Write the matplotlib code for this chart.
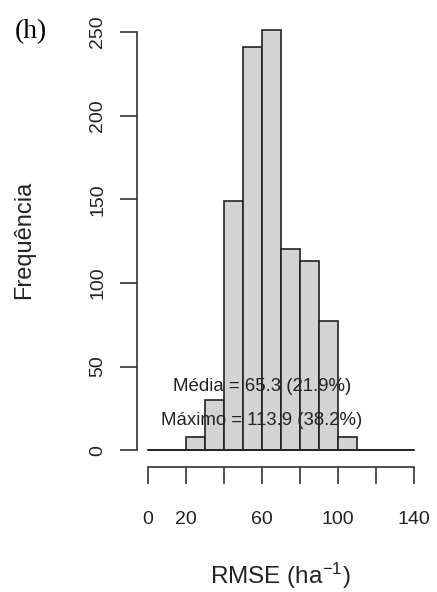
import numpy as np
import matplotlib
matplotlib.use("Agg")
import matplotlib.pyplot as plt

# RMSE histogram: bin edges (ha^-1) and counts per bin
bin_edges = [0, 10, 20, 30, 40, 50, 60, 70, 80, 90, 100, 110, 120, 130, 140]
counts = [0, 0, 8, 30, 149, 241, 251, 120, 113, 77, 8, 0, 0, 0]
x_ticks = [0, 20, 40, 60, 80, 100, 120, 140]
x_tick_labels = ["0", "20", "", "60", "", "100", "", "140"]
y_ticks = [0, 50, 100, 150, 200, 250]
media_text = "Média = 65.3 (21.9%)"
maximo_text = "Máximo = 113.9 (38.2%)"

plt.rcParams['font.family'] = ['Liberation Sans', 'DejaVu Sans']
plt.rcParams['mathtext.fontset'] = 'custom'
plt.rcParams['mathtext.rm'] = 'Liberation Sans'
plt.rcParams['mathtext.it'] = 'Liberation Sans'

fig = plt.figure(figsize=(4.37, 5.92), dpi=100)
W, H = 437, 592
left, right, top, bottom = 137, 424.3, 13.6, 467
ax = fig.add_axes([left / W, (H - bottom) / H, (right - left) / W, (bottom - top) / H])

lefts = np.array(bin_edges[:-1])
widths = np.diff(bin_edges)
ax.bar(lefts, counts, width=widths, align='edge', color='#d3d3d3',
       edgecolor='#222222', linewidth=1.2)
# zero-count bins show up as a flat line along the base
ax.plot([bin_edges[0], bin_edges[-1]], [0, 0], color='#222222', linewidth=1.2)

ax.set_xlim(-5.6, 145.6)
ax.set_ylim(-10.04, 261.04)

for s in ['top', 'right']:
    ax.spines[s].set_visible(False)
ax.spines['left'].set_bounds(0, 250)
ax.spines['bottom'].set_bounds(0, 140)
for s in ['left', 'bottom']:
    ax.spines[s].set_color('#333333')
    ax.spines[s].set_linewidth(1.2)

ax.set_xticks(x_ticks)
ax.set_xticklabels(x_tick_labels)
ax.set_yticks(y_ticks)
ax.tick_params(axis='both', length=12, width=1.2, color='#333333',
               labelsize=14, labelcolor='#222222')
ax.tick_params(axis='x', pad=20)
ax.tick_params(axis='y', pad=10, labelrotation=90)
for t in ax.get_yticklabels():
    t.set_va('center')

ax.set_xlabel("RMSE (ha$\\mathrm{^{-1}}$)", fontsize=17.5, color='#222222')
ax.set_ylabel("Frequência", fontsize=17, color='#222222')
ax.xaxis.set_label_coords(0.5, -0.207)
ax.yaxis.set_label_coords(-0.353, 0.5)

ax.text(60, 38, media_text, ha='center', va='center', fontsize=13.4, color='#222222')
ax.text(60, 18, maximo_text, ha='center', va='center', fontsize=13.4, color='#222222')

fig.text(15 / W, 1 - 32 / H, "(h)", family='Liberation Serif', fontsize=20,
         ha='left', va='center', color='black')

fig.savefig("out.png", dpi=100)
